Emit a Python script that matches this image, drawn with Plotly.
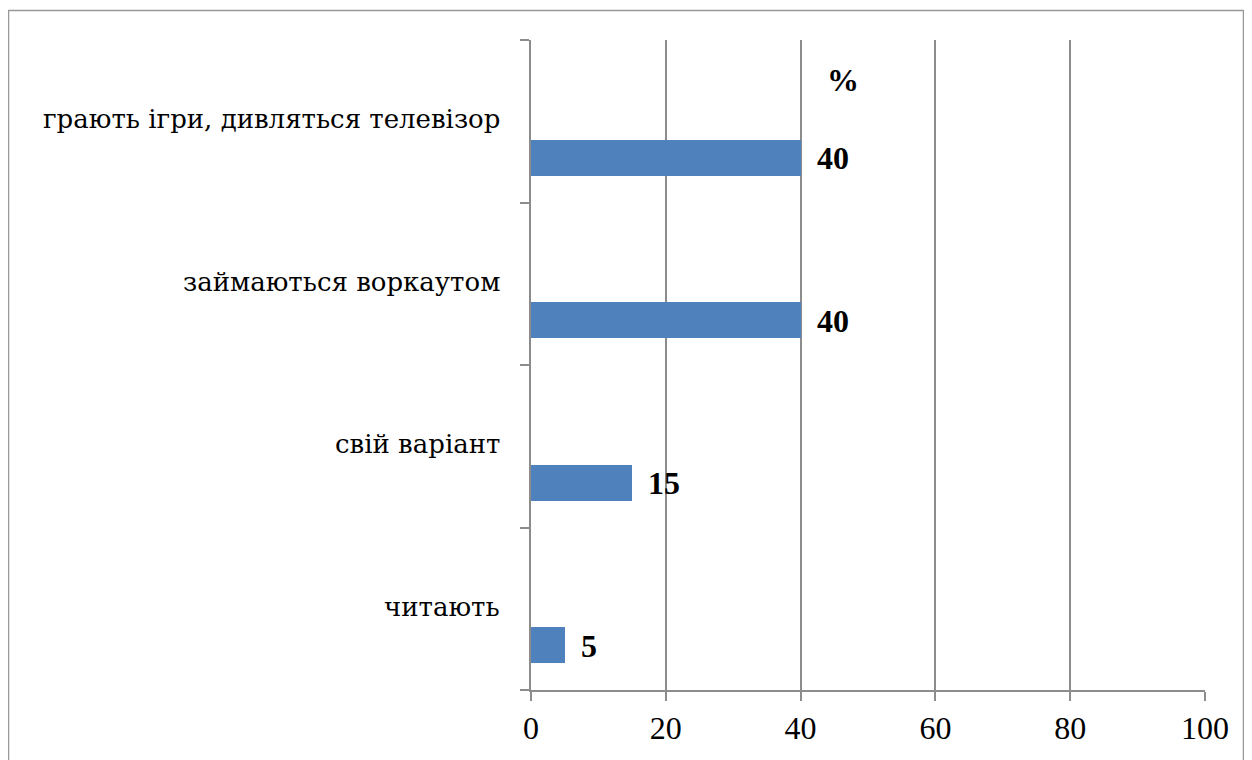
import plotly.graph_objects as go

categories = ["читають", "свій варіант", "займаються воркаутом", "грають ігри, дивляться телевізор"]
values = [5, 15, 40, 40]
x_ticks = [0, 20, 40, 60, 80, 100]
unit_label = "%"

# page body adds an 8px margin; figure coordinates are screen coordinates minus 8
OFF = 8
W, H = 1252 - OFF, 760 - OFF
L = 531 - OFF
T = 40 - OFF
R = W - (1205 - OFF)
B = H - (690 - OFF)
pw, ph = W - L - R, H - T - B

def px_x(p):
    return (p - OFF - L) / pw

def px_y(p):
    return (H - B - (p - OFF)) / ph

GRID = "#8c8c8c"
FONT = "Liberation Serif"
CYR_FONT = "DejaVu Serif"

fig = go.Figure()
fig.add_trace(go.Bar(
    x=values, y=categories, orientation="h",
    marker=dict(color="#4f81bd", line=dict(width=0)),
    width=0.22, offset=-0.335,
    hoverinfo="skip",
))

# value labels
for c, v in zip(categories, values):
    fig.add_annotation(
        x=v, y=c, text=f"<b>{v}</b>", showarrow=False,
        xanchor="left", yanchor="middle", xshift=14, yshift=-37,
        font=dict(family=FONT, size=32, color="black"),
    )

# category labels
for c in categories:
    fig.add_annotation(
        x=0, xref="paper", y=c, text=c, showarrow=False,
        xanchor="right", yanchor="middle", xshift=-29, yshift=2,
        font=dict(family=CYR_FONT, size=26, color="black"),
    )

fig.add_annotation(
    x=px_x(842.5), y=px_y(80), xref="paper", yref="paper",
    text=f"<b>{unit_label}</b>", showarrow=False,
    xanchor="center", yanchor="middle",
    font=dict(family=FONT, size=32, color="black"),
)

fig.add_shape(
    type="rect", xref="paper", yref="paper",
    x0=px_x(8.5), x1=px_x(1243.5), y0=px_y(790), y1=px_y(10.5),
    line=dict(color="#999999", width=1.5), fillcolor="rgba(0,0,0,0)",
    layer="above",
)

fig.update_layout(
    width=W, height=H,
    margin=dict(l=L, r=R, t=T, b=B, pad=0),
    paper_bgcolor="white", plot_bgcolor="white",
    font=dict(family=FONT, color="black", size=32),
    showlegend=False,
    bargap=0,
    xaxis=dict(
        range=[0, 100], tickvals=x_ticks, ticktext=[str(t) for t in x_ticks],
        showgrid=True, gridcolor=GRID, gridwidth=2,
        showline=True, linecolor=GRID, linewidth=2,
        ticks="outside", ticklen=9, tickwidth=2, tickcolor=GRID,
        tickfont=dict(size=32),
        zeroline=False,
    ),
    yaxis=dict(
        type="category", categoryorder="array", categoryarray=categories,
        range=[-0.5, 3.5],
        showgrid=False, showline=True, linecolor=GRID, linewidth=2,
        ticks="outside", tickson="boundaries", ticklen=9, tickwidth=2, tickcolor=GRID,
        showticklabels=False,
        zeroline=False,
    ),
)

fig.write_html("out.html")
